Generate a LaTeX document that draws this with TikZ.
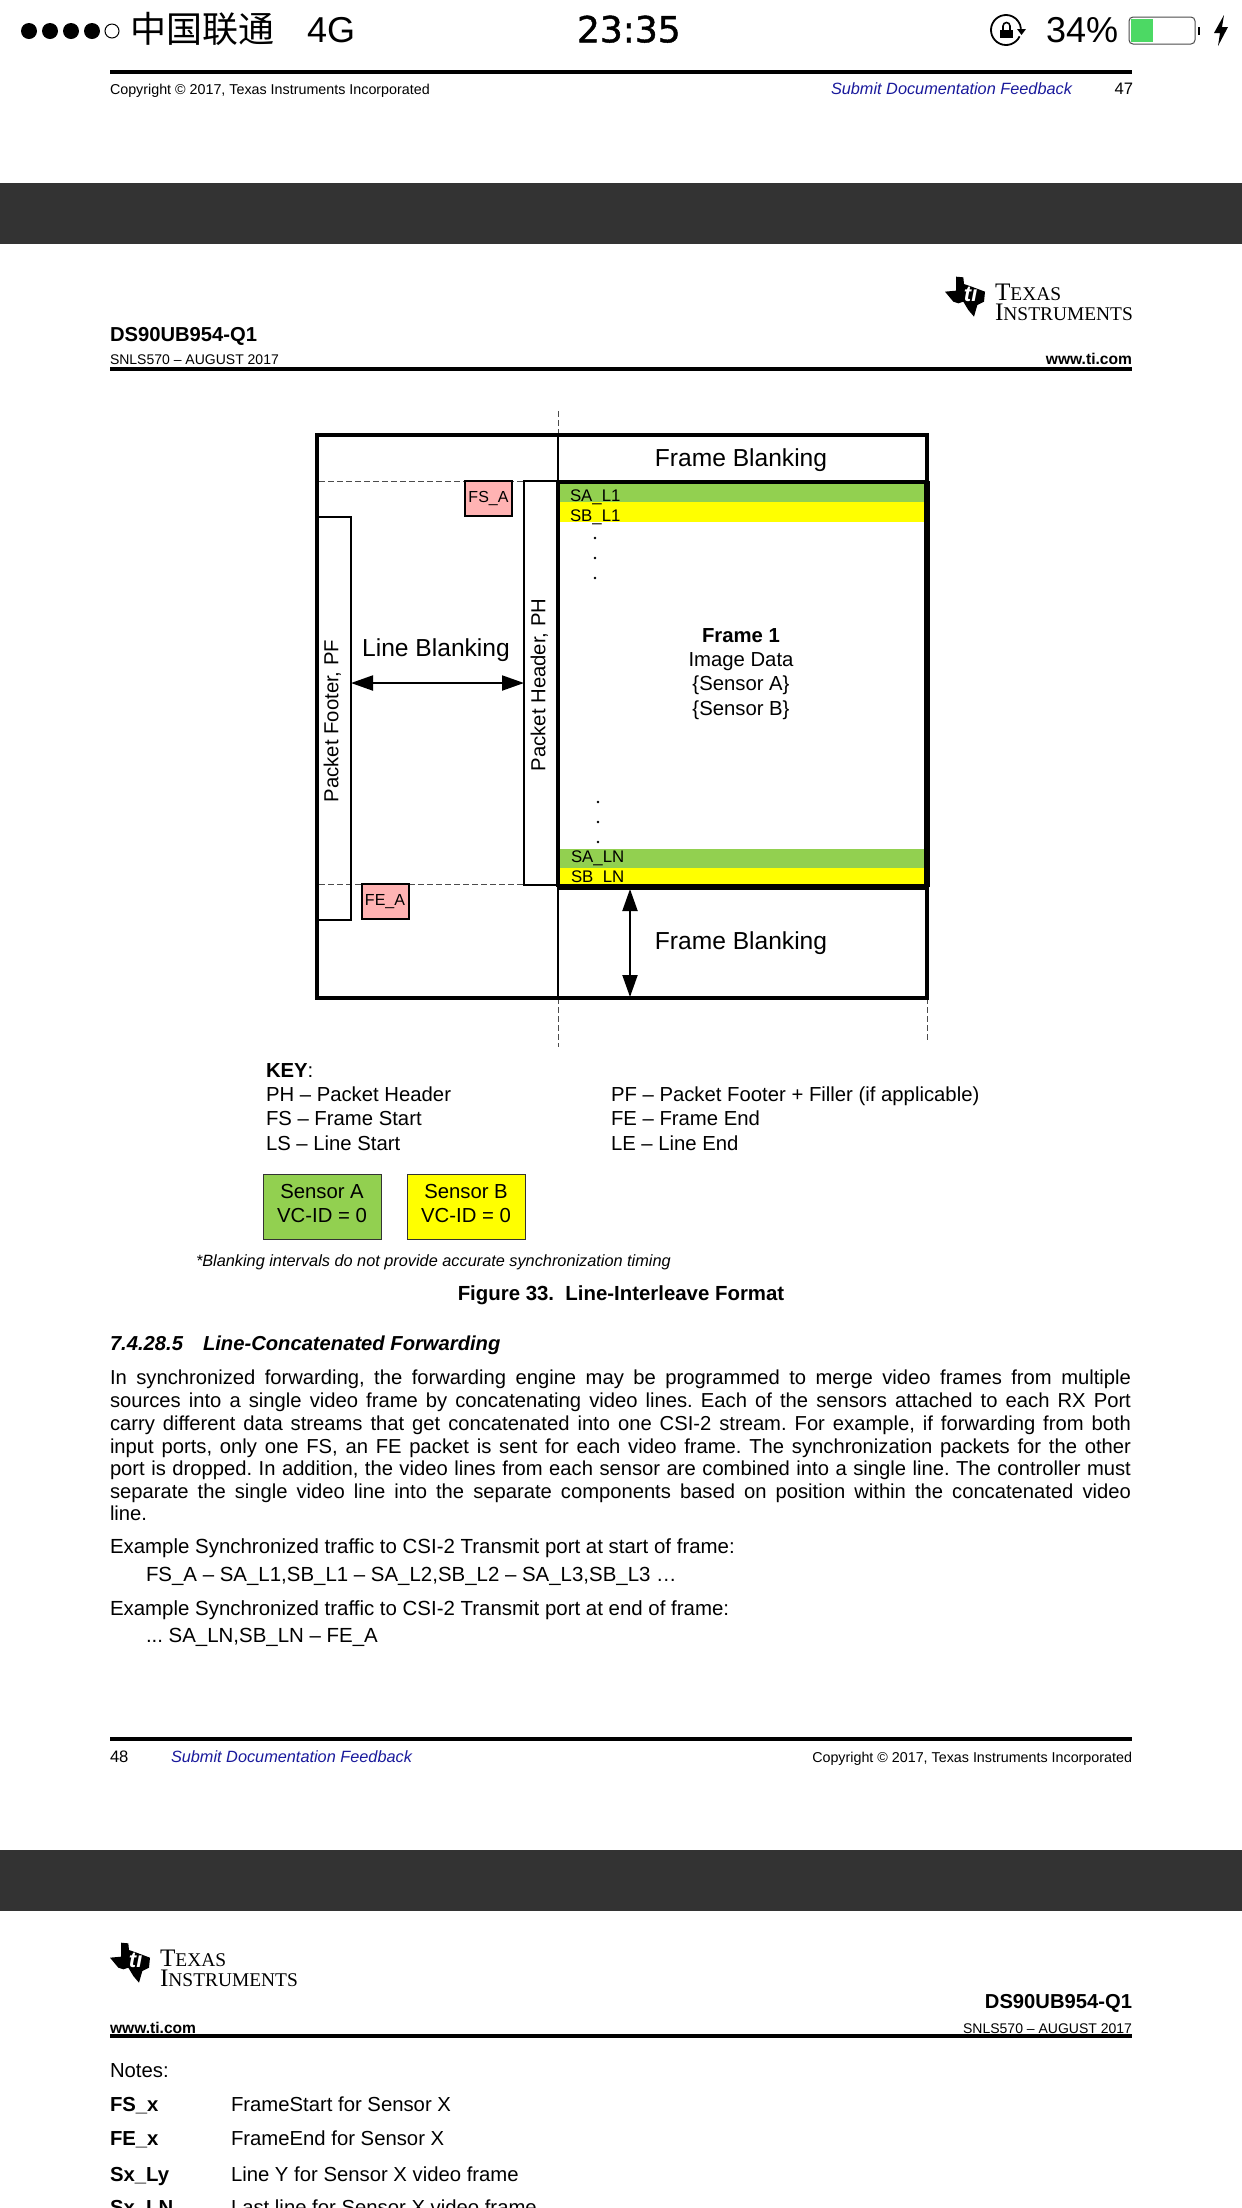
\documentclass[tikz,border=0pt]{standalone}
\usepackage{fontspec}
\setmainfont{Liberation Sans}
\newfontfamily\cjkf{Noto Sans CJK SC}
\newfontfamily\serf{Liberation Serif}
\newfontfamily\clockf[FakeBold=1.2]{DejaVu Sans}
\usetikzlibrary{arrows.meta}
\definecolor{sgreen}{HTML}{92D050}
\definecolor{syellow}{HTML}{FFFF00}
\definecolor{spink}{HTML}{FFB3B3}
\definecolor{band}{HTML}{333333}
\definecolor{linkblue}{HTML}{1A1A9C}
\definecolor{batgreen}{HTML}{4CD964}
\newcommand{\fs}[1]{\fontsize{#1}{#1}\selectfont}
\newcommand{\jl}[1]{\hbox to 510.5pt{#1}}
\newcommand{\tilogo}[2]{%
\begin{scope}[shift={(#1,#2)},scale=1/3]
\fill[black] (168,50)--(190,52)--(192,72)--(215,80)--(255,95)--(252,125)--(232,135)--(222,170)--(205,150)--(190,125)--(175,130)--(160,125)--(135,95)--(168,92)--cycle;
\node[inner sep=0pt,white] at (212,100) {\fs{11}\bfseries\itshape ti};
\node[inner sep=0pt,anchor=base west] at (284,120) {\serf\fs{12.6}T\fs{9.7}EXAS};
\node[inner sep=0pt,anchor=base west] at (284,180) {\serf\fs{12.6}I\fs{9.7}NSTRUMENTS};
\end{scope}}
\tikzset{
 x=0.5pt,y=-0.5pt,
 txt/.style={inner sep=0pt,outer sep=0pt,anchor=mid,yshift=-1pt,font=\fs{10.15}},
 lft/.style={txt,anchor=mid west},
 rgt/.style={txt,anchor=mid east},
 small/.style={txt,font=\fs{7.15}},
 statustxt/.style={lft,yshift=-2pt},
 frameline/.style={line width=2.2pt,line cap=rect},
 midline/.style={line width=1.05pt},
 guide/.style={line width=0.35pt,dash pattern=on 3pt off 1.5pt,black!70},
 pinkbox/.style={draw=black,line width=1pt,fill=spink,inner sep=0pt,minimum width=23.5pt,minimum height=17.5pt,font=\fs{8}},
 keybox/.style={draw=black!80,line width=0.4pt,inner sep=0pt,minimum width=59pt,minimum height=32.5pt,align=center,font=\fs{10.15}},
 dimarrow/.style={line width=1pt,{Triangle[length=11pt,width=7.5pt]}-{Triangle[length=11pt,width=7.5pt]}},
 rule/.style={line width=2pt},
}
\begin{document}
\frenchspacing
\begin{tikzpicture}
\useasboundingbox (0,0) rectangle (1242,2208);
\clip (0,0) rectangle (1242,2208);
\fill[white] (0,0) rectangle (1242,2208);

% status bar
\foreach \cx in {29,50,71,92} \fill[black] (\cx,31) circle (8);
\draw[line width=0.5pt] (112,31) circle (7);
\node[statustxt] (carrier) at (130,31) {\cjkf\fs{18}中国联通};
\node[statustxt] (net) at (307,31) {\fs{18}4G};
\node[statustxt] (clock) at (577,31) {\clockf\fs{18}23:35};
\draw[line width=0.9pt] (1006,30) ++(25:15) arc (25:355:15);
\fill[black] (1000,30) rectangle (1013,38);
\draw[line width=0.8pt] (1003,30) -- (1003,26) arc (180:360:3.5) -- (1010,30);
\fill[black] (1017,29)--(1026,29)--(1021.5,35)--cycle;
\node[statustxt] (batt) at (1046,31) {\fs{18}34\%};
\draw[line width=0.5pt,black!70,rounded corners=2pt] (1129,17) rectangle (1195,44);
\fill[batgreen] (1131,19) rectangle (1153,42);
\fill[black] (1198,27) rectangle (1200,35);
\fill[black] (1224,15)--(1214,33)--(1220,33)--(1218,46)--(1228,27)--(1222,27)--cycle;

% page 47 footer
\draw[rule] (110,72) -- (1132,72);
\node[small,anchor=mid west] (copy1) at (110,87) {Copyright © 2017, Texas Instruments Incorporated};
\node[txt,anchor=mid east,text=linkblue,font=\fs{8.15}\itshape] (sub1) at (1072,87.5) {Submit Documentation Feedback};
\node[txt,anchor=mid east,font=\fs{8.3}] (pg47) at (1133,87.5) {47};

\fill[band] (0,183) rectangle (1242,244);
\fill[band] (0,1850) rectangle (1242,1911);

% page 48 head
\tilogo{900}{260}
\node[lft,font=\fs{10.1}\bfseries] (ds1) at (110,334) {DS90UB954-Q1};
\node[small,anchor=mid west,font=\fs{7}] (sn1) at (110,357) {SNLS570 – AUGUST 2017};
\node[txt,anchor=mid east,font=\fs{7.8}\bfseries] (www1) at (1132,357) {www.ti.com};
\draw[rule] (110,369) -- (1132,369);

% diagram fills
\fill[sgreen] (558,484) rectangle (927,502);
\fill[syellow] (558,502) rectangle (927,522);
\fill[sgreen] (558,849) rectangle (927,868);
\fill[syellow] (558,868) rectangle (927,885);

% guides
\coordinate (gt) at (558,411);
\coordinate (gb) at (558,1047);
\coordinate (gr) at (927,1042);
\coordinate (gl1) at (319,481);
\coordinate (gl2) at (319,884);
\draw[guide] (gt) -- (558,435);
\draw[guide] (558,998) -- (gb);
\draw[guide] (927,998) -- (gr);
\draw[guide] (gl1) -- (524,481);
\draw[guide] (gl2) -- (524,884);

% packet boxes
\draw[midline] (317,517) -- (351,517) -- (351,920) -- (317,920);
\draw[midline] (558,481) -- (524,481) -- (524,885) -- (558,885);
\draw[midline] (558,435) -- (558,1000);

% frame
\draw[frameline] (317,435) rectangle (927,998);
\draw[line width=2pt] (558,482) -- (927,482);
\draw[line width=2.6pt] (558,887) -- (927,887);
\draw[line width=2pt] (558,481) -- (558,887);
\draw[line width=2.7pt] (927,481) -- (927,887);

\node[pinkbox] (fsa) at (488.5,498.5) {FS\_A};
\node[pinkbox] (fea) at (385,901.5) {FE\_A};

\node[txt,font=\fs{12.3}] (fb1) at (741,459) {Frame Blanking};
\node[txt,font=\fs{12.3}] (lb) at (436,649) {Line Blanking};
\node[txt,font=\fs{12.3}] (fb2) at (741,942) {Frame Blanking};
\node[lft,font=\fs{8.4}] (sa1) at (570,494) {SA\_L1};
\node[lft,font=\fs{8.4}] (sb1) at (570,514) {SB\_L1};
\node[lft,font=\fs{8.4}] (san) at (571,855) {SA\_LN};
\node[lft,font=\fs{8.4}] (sbn) at (571,875) {SB\_LN};
\foreach \dy in {538,558,578} \fill[black] (595,\dy) circle (1.3);
\foreach \dy in {802,822,842} \fill[black] (598,\dy) circle (1.3);
\node[txt,font=\fs{10.15}\bfseries] (fr1) at (741,635) {Frame 1};
\node[txt] (fr2) at (741,659) {Image Data};
\node[txt] (fr3) at (741,683) {\{Sensor A\}};
\node[txt] (fr4) at (741,708) {\{Sensor B\}};
\node[txt,rotate=90] (pf) at (333,719) {Packet Footer, PF};
\node[txt,rotate=90] (ph) at (540,683) {Packet Header, PH};

\coordinate (lba) at (351,683);
\coordinate (lbb) at (524,683);
\coordinate (fba) at (630,889);
\coordinate (fbb) at (630,997);
\draw[dimarrow] (lba) -- (lbb);
\draw[dimarrow] (fba) -- (fbb);

% key
\node[lft] (key) at (266,1070) {\textbf{KEY}:};
\node[lft] (k1) at (266,1094) {PH – Packet Header};
\node[lft] (k2) at (266,1118) {FS – Frame Start};
\node[lft] (k3) at (266,1143) {LS – Line Start};
\node[lft] (k4) at (611,1094) {PF – Packet Footer + Filler (if applicable)};
\node[lft] (k5) at (611,1118) {FE – Frame End};
\node[lft] (k6) at (611,1143) {LE – Line End};
\node[keybox,fill=sgreen] (sensa) at (322,1207) {Sensor A\\[2pt]VC-ID = 0\rule[-3.5pt]{0pt}{3.5pt}};
\node[keybox,fill=syellow] (sensb) at (466,1207) {Sensor B\\[2pt]VC-ID = 0\rule[-3.5pt]{0pt}{3.5pt}};
\node[lft,font=\fs{8.15}\itshape] (note) at (196,1259) {*Blanking intervals do not provide accurate synchronization timing};
\node[txt,font=\fs{10.2}\bfseries] (figcap) at (621,1293) {Figure 33.\ \ Line-Interleave Format};

% section
\node[lft,font=\fs{10.1}\bfseries\itshape] (sec) at (110,1343) {7.4.28.5\hspace{10pt}Line-Concatenated Forwarding};
\node[lft,font=\fs{10.1}] (p1) at (110,1377) {\jl{In synchronized forwarding, the forwarding engine may be programmed to merge video frames from multiple}};
\node[lft,font=\fs{10.1}] (p2) at (110,1400) {\jl{sources into a single video frame by concatenating video lines. Each of the sensors attached to each RX Port}};
\node[lft,font=\fs{10.1}] (p3) at (110,1423) {\jl{carry different data streams that get concatenated into one CSI-2 stream. For example, if forwarding from both}};
\node[lft,font=\fs{10.1}] (p4) at (110,1446) {\jl{input ports, only one FS, an FE packet is sent for each video frame. The synchronization packets for the other}};
\node[lft,font=\fs{10.1}] (p5) at (110,1468) {\jl{port is dropped. In addition, the video lines from each sensor are combined into a single line. The controller must}};
\node[lft,font=\fs{10.1}] (p6) at (110,1491) {\jl{separate the single video line into the separate components based on position within the concatenated video}};
\node[lft,font=\fs{10.1}] (p7) at (110,1513) {line.};
\node[lft,font=\fs{10.22}] (e1) at (110,1546) {Example Synchronized traffic to CSI-2 Transmit port at start of frame:};
\node[lft,font=\fs{10.22}] (e2) at (146,1574) {FS\_A – SA\_L1,SB\_L1 – SA\_L2,SB\_L2 – SA\_L3,SB\_L3 …};
\node[lft,font=\fs{10.22}] (e3) at (110,1608) {Example Synchronized traffic to CSI-2 Transmit port at end of frame:};
\node[lft,font=\fs{10.22}] (e4) at (146,1635) {... SA\_LN,SB\_LN – FE\_A};

% footer 48
\draw[rule] (110,1739) -- (1132,1739);
\node[lft,font=\fs{8.3}] (pg48) at (110,1755) {48};
\node[lft,text=linkblue,font=\fs{8.15}\itshape] (sub2) at (171,1755) {Submit Documentation Feedback};
\node[small,anchor=mid east] (copy2) at (1132,1755) {Copyright © 2017, Texas Instruments Incorporated};

% page 49 head
\tilogo{65}{1926}
\node[rgt,font=\fs{10.1}\bfseries] (ds2) at (1132,2001) {DS90UB954-Q1};
\node[small,anchor=mid east,font=\fs{7}] (sn2) at (1132,2026) {SNLS570 – AUGUST 2017};
\node[lft,font=\fs{7.8}\bfseries] (www2) at (110,2026) {www.ti.com};
\draw[rule] (110,2036) -- (1132,2036);
\node[lft] (notes) at (110,2070) {Notes:};
\node[lft,font=\fs{10.15}\bfseries] (n1) at (110,2104) {FS\_x};
\node[lft] (d1) at (231,2104) {FrameStart for Sensor X};
\node[lft,font=\fs{10.15}\bfseries] (n2) at (110,2138) {FE\_x};
\node[lft] (d2) at (231,2138) {FrameEnd for Sensor X};
\node[lft,font=\fs{10.15}\bfseries] (n3) at (110,2174) {Sx\_Ly};
\node[lft] (d3) at (231,2174) {Line Y for Sensor X video frame};
\node[lft,font=\fs{10.15}\bfseries] (n4) at (110,2207) {Sx\_LN};
\node[lft] (d4) at (231,2207) {Last line for Sensor X video frame};
\end{tikzpicture}
\end{document}
